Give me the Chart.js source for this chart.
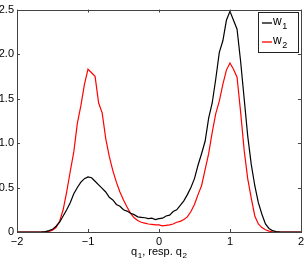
<!DOCTYPE html>
<html>
<head>
<meta charset="utf-8">
<script src="https://cdn.jsdelivr.net/npm/chart.js@4.4.1/dist/chart.umd.min.js"></script>
<style>
  html, body { margin: 0; padding: 0; background: #fff; }
  #wrap { width: 307px; height: 263px; }
</style>
</head>
<body>
<div id="wrap"><canvas id="dist"></canvas></div>
<script>
// q values, step 0.05 from -2 to 2
var qValues = [
  -2.00, -1.95, -1.90, -1.85, -1.80, -1.75, -1.70, -1.65, -1.60, -1.55,
  -1.50, -1.45, -1.40, -1.35, -1.30, -1.25, -1.20, -1.15, -1.10, -1.05,
  -1.00, -0.95, -0.90, -0.85, -0.80, -0.75, -0.70, -0.65, -0.60, -0.55,
  -0.50, -0.45, -0.40, -0.35, -0.30, -0.25, -0.20, -0.15, -0.10, -0.05,
   0.00,  0.05,  0.10,  0.15,  0.20,  0.25,  0.30,  0.35,  0.40,  0.45,
   0.50,  0.55,  0.60,  0.65,  0.70,  0.75,  0.80,  0.85,  0.90,  0.95,
   1.00,  1.05,  1.10,  1.15,  1.20,  1.25,  1.30,  1.35,  1.40,  1.45,
   1.50,  1.55,  1.60,  1.65,  1.70,  1.75,  1.80,  1.85,  1.90,  1.95,
   2.00
];
var w1Values = [
  0, 0, 0, 0, 0, 0, 0, 0.002, 0.005, 0.015,
  0.03, 0.065, 0.11, 0.18, 0.25, 0.33, 0.43, 0.50, 0.56, 0.60,
  0.62, 0.61, 0.57, 0.53, 0.49, 0.45, 0.39, 0.36, 0.31, 0.29,
  0.25, 0.235, 0.21, 0.195, 0.17, 0.165, 0.16, 0.15, 0.155, 0.14,
  0.15, 0.155, 0.18, 0.19, 0.23, 0.25, 0.30, 0.35, 0.42, 0.50,
  0.60, 0.75, 0.88, 1.02, 1.28, 1.45, 1.72, 2.02, 2.15, 2.38,
  2.48, 2.38, 2.28, 1.92, 1.50, 1.08, 0.76, 0.52, 0.33, 0.20,
  0.09, 0.04, 0.015, 0.005, 0.002, 0, 0, 0, 0, 0,
  0
];
var w2Values = [
  0, 0, 0, 0, 0, 0, 0, 0, 0.002, 0.008,
  0.02, 0.05, 0.12, 0.25, 0.45, 0.68, 0.90, 1.22, 1.42, 1.66,
  1.83, 1.79, 1.75, 1.45, 1.34, 1.05, 0.85, 0.69, 0.56, 0.45,
  0.36, 0.28, 0.21, 0.16, 0.13, 0.11, 0.10, 0.09, 0.085, 0.08,
  0.08, 0.07, 0.075, 0.08, 0.09, 0.11, 0.12, 0.14, 0.17, 0.23,
  0.31, 0.42, 0.52, 0.70, 0.88, 1.12, 1.33, 1.47, 1.66, 1.82,
  1.90, 1.83, 1.74, 1.35, 0.92, 0.60, 0.38, 0.18, 0.09, 0.05,
  0.025, 0.01, 0.003, 0, 0, 0, 0, 0, 0, 0,
  0
];
var seriesNames = [[['w', '1']], [['w', '2']]];
var seriesColors = ['#000000', '#ff0000'];
var xTicks = [-2, -1, 0, 1, 2];
var yTicks = [0, 0.5, 1, 1.5, 2, 2.5];
var xLabelParts = [['q', '1'], [', resp. q', '2']];

var FONT = '"Liberation Sans", Arial, sans-serif';
var AXIS_COLOR = '#444';

function toPoints(values) {
  return qValues.map((q, i) => ({ x: q, y: values[i] }));
}

// draw text pieces of [main, subscript] pairs, returns width
function drawSubText(ctx, parts, x, y, size, measureOnly) {
  var w = 0;
  parts.forEach(p => {
    ctx.font = size + 'px ' + FONT;
    if(!measureOnly) ctx.fillText(p[0], x + w, y);
    w += ctx.measureText(p[0]).width;
    ctx.font = Math.round(size * 0.72) + 'px ' + FONT;
    if(!measureOnly) ctx.fillText(p[1], x + w + 0.5, y + size * 0.3);
    w += ctx.measureText(p[1]).width + 0.5;
  });
  return w;
}

var matlabBox = {
  id: 'matlabBox',
  afterDraw(chart) {
    var ctx = chart.ctx;
    var a = chart.chartArea;
    var xs = chart.scales.x, ys = chart.scales.y;
    ctx.save();
    ctx.strokeStyle = AXIS_COLOR;
    ctx.lineWidth = 1;
    ctx.strokeRect(Math.round(a.left) + 0.5, Math.round(a.top) + 0.5,
      Math.round(a.right - a.left), Math.round(a.bottom - a.top));
    var len = 3;
    ctx.beginPath();
    xTicks.forEach(v => {
      var px = Math.round(xs.getPixelForValue(v)) + 0.5;
      ctx.moveTo(px, a.bottom); ctx.lineTo(px, a.bottom - len);
      ctx.moveTo(px, a.top); ctx.lineTo(px, a.top + len);
    });
    yTicks.forEach(v => {
      var py = Math.round(ys.getPixelForValue(v)) + 0.5;
      ctx.moveTo(a.left, py); ctx.lineTo(a.left + len, py);
      ctx.moveTo(a.right, py); ctx.lineTo(a.right - len, py);
    });
    ctx.stroke();

    // x axis label with subscripts
    ctx.fillStyle = '#000';
    ctx.textBaseline = 'alphabetic';
    ctx.textAlign = 'left';
    var size = 11;
    var tw = drawSubText(ctx, xLabelParts, 0, 0, size, true);
    var cx = (a.left + a.right) / 2;
    drawSubText(ctx, xLabelParts, cx - tw / 2, 255, size, false);

    // legend
    var lx = 258, ly = 12, lw = 40, lh = 40;
    ctx.fillStyle = '#fff';
    ctx.fillRect(lx, ly, lw, lh);
    ctx.strokeStyle = '#222';
    ctx.lineWidth = 1;
    ctx.strokeRect(lx + 0.5, ly + 0.5, lw, lh);
    chart.data.datasets.forEach((ds, i) => {
      var rowY = ly + 11 + i * 19;
      ctx.strokeStyle = ds.borderColor;
      ctx.lineWidth = 1.3;
      ctx.beginPath();
      ctx.moveTo(lx + 4, rowY); ctx.lineTo(lx + 14, rowY);
      ctx.stroke();
      ctx.fillStyle = '#000';
      drawSubText(ctx, seriesNames[i], lx + 15, rowY + 2, 12, false);
    });
    ctx.restore();
  }
};

var ctx = document.getElementById('dist').getContext('2d');
var chart = new Chart(ctx, {
  type: 'line',
  data: {
    datasets: [
      { label: 'w1', data: toPoints(w1Values), borderColor: seriesColors[0], borderWidth: 1.2, pointRadius: 0, tension: 0, fill: false },
      { label: 'w2', data: toPoints(w2Values), borderColor: seriesColors[1], borderWidth: 1.2, pointRadius: 0, tension: 0, fill: false }
    ]
  },
  options: {
    responsive: true,
    maintainAspectRatio: false,
    animation: false,
    layout: { padding: { left: 0, right: 6, top: 9, bottom: 0 } },
    plugins: { legend: { display: false }, tooltip: { enabled: false } },
    scales: {
      x: {
        type: 'linear', min: -2, max: 2,
        grid: { display: false, drawTicks: false },
        border: { display: false },
        afterBuildTicks: s => { s.ticks = xTicks.map(v => ({ value: v })); },
        afterFit: s => { s.height = 31; },
        ticks: {
          color: '#000', padding: 3, maxRotation: 0,
          font: { family: FONT, size: 11 },
          callback: v => String(v).replace('-', '\u2212')
        }
      },
      y: {
        min: 0, max: 2.5,
        grid: { display: false, drawTicks: false },
        border: { display: false },
        afterBuildTicks: s => { s.ticks = yTicks.map(v => ({ value: v })); },
        afterFit: s => { s.width = 17; },
        ticks: {
          color: '#000', padding: 3,
          font: { family: FONT, size: 11 }
        }
      }
    }
  },
  plugins: [matlabBox]
});
</script>
</body>
</html>
